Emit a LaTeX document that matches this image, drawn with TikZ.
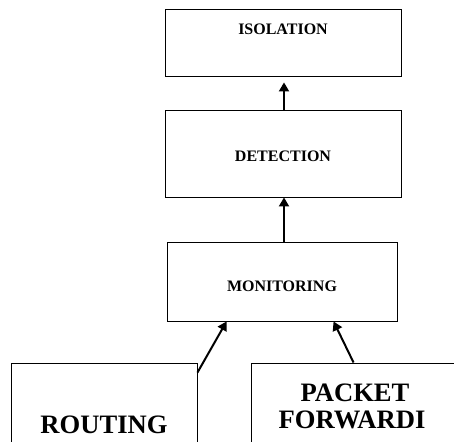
\documentclass[tikz,border=0pt]{standalone}
\usepackage{fontspec}
\setmainfont{Liberation Serif}
\usetikzlibrary{arrows.meta,calc}
\begin{document}
\begin{tikzpicture}[x=1pt,y=1pt,
  box/.style={draw=black,line width=0.9pt,rectangle,inner sep=0pt},
  smalltxt/.style={font=\fontsize{16}{19}\selectfont\bfseries,inner sep=0pt,anchor=base},
  bigtxt/.style={font=\fontsize{26.6}{27}\selectfont\bfseries,inner sep=0pt,anchor=base},
  arr/.style={line width=2pt,-{Triangle[width=10pt,length=9pt]}}]
\useasboundingbox (0,0) rectangle (454,441);
\clip (0,0) rectangle (454,441);
\fill[white] (0,0) rectangle (454,441);
% boxes
\node[box,minimum width=236pt,minimum height=67pt] (iso) at (283,398.5) {};
\node[box,minimum width=236pt,minimum height=87pt] (det) at (283,287.5) {};
\node[box,minimum width=230pt,minimum height=79pt] (mon) at (282,159.5) {};
\node[box,minimum width=186pt,minimum height=158pt] (rout) at (104,-1) {};
\node[box,minimum width=219pt,minimum height=158pt] (pack) at (360.5,-1) {};
% texts
\node[smalltxt] (isot) at (283,406.5) {ISOLATION};
\node[smalltxt] (dett) at (283,279) {DETECTION};
\node[smalltxt] (mont) at (282,149) {MONITORING};
\node[bigtxt] (routt) at (104,8) {ROUTING};
\node[bigtxt] (packt) at (355,40) {PACKET};
\node[bigtxt] (fwdt) at (352,13) {FORWARDI};
% connectors
\draw[arr] (det.north -| 284,0) -- ($(iso.south -| 284,0)+(0,-6)$);
\draw[arr] (mon.north -| 284,0) -- (det.south -| 284,0);
\draw[arr] ($(rout.north east)+(0,-10)$) -- ($(mon.south west)+(60,0)$);
\draw[arr] ($(pack.north west)+(103,0)$) -- ($(mon.south west)+(167,0)$);
\end{tikzpicture}
\end{document}
